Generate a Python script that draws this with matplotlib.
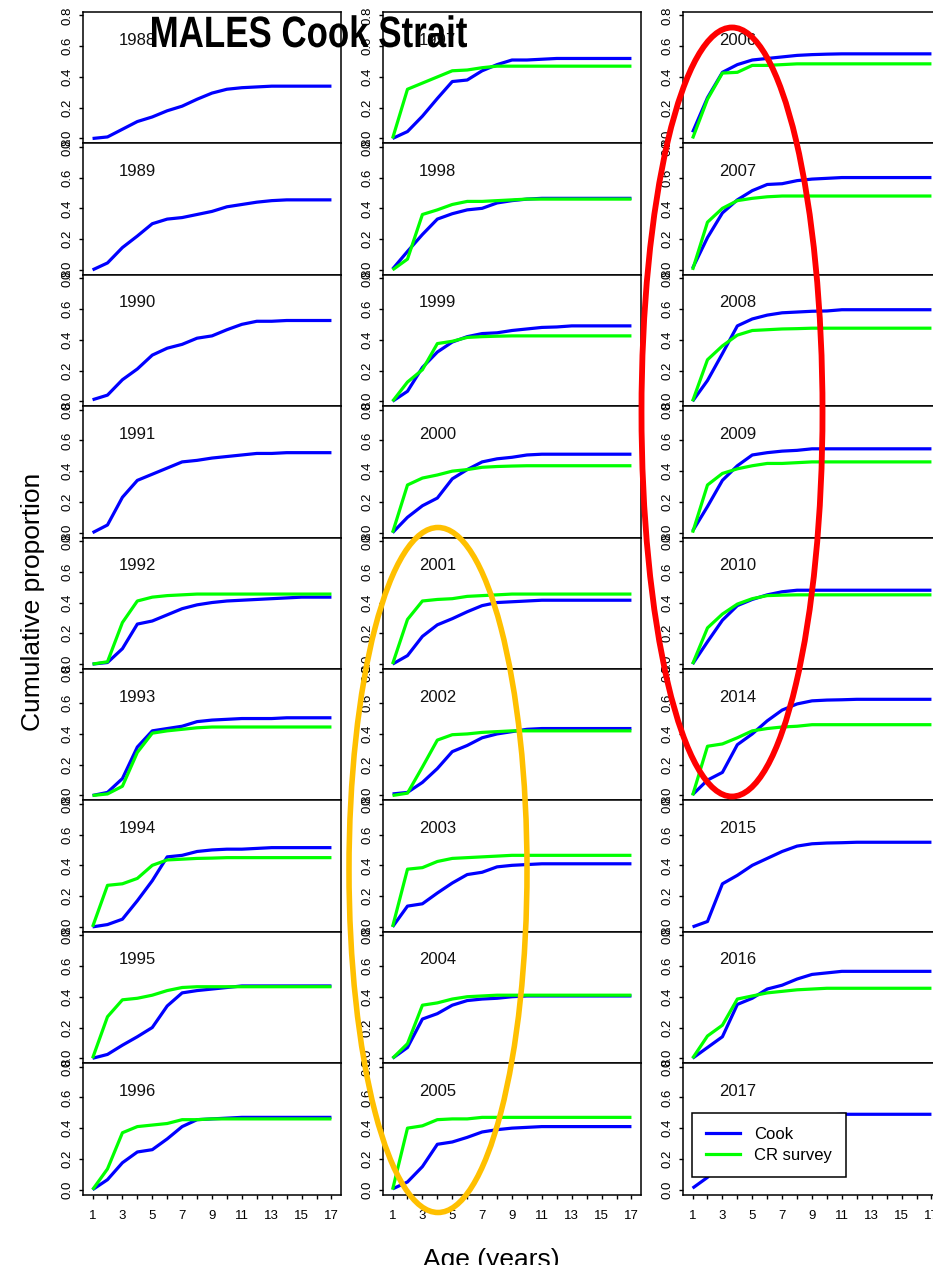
import matplotlib
matplotlib.use("Agg")
import matplotlib.pyplot as plt
from matplotlib.patches import Ellipse, PathPatch
from matplotlib.textpath import TextPath
from matplotlib.font_manager import FontProperties
from matplotlib.transforms import Affine2D

plt.rcParams['font.family'] = ['Liberation Sans', 'DejaVu Sans']

ages = list(range(1, 18))

# panels are filled column by column, top to bottom
years = [1988, 1989, 1990, 1991, 1992, 1993, 1994, 1995, 1996,
         1997, 1998, 1999, 2000, 2001, 2002, 2003, 2004, 2005,
         2006, 2007, 2008, 2009, 2010, 2014, 2015, 2016, 2017]

# cumulative proportion mature by age, commercial (Cook) sampling
cook = [
    [0.0, 0.01, 0.06, 0.11, 0.14, 0.18, 0.21, 0.255, 0.295, 0.32, 0.33, 0.335, 0.34, 0.34, 0.34, 0.34, 0.34],
    [0.0, 0.045, 0.145, 0.22, 0.30, 0.33, 0.34, 0.36, 0.38, 0.41, 0.425, 0.44, 0.45, 0.455, 0.455, 0.455, 0.455],
    [0.01, 0.04, 0.14, 0.21, 0.30, 0.345, 0.37, 0.41, 0.425, 0.465, 0.50, 0.52, 0.52, 0.525, 0.525, 0.525, 0.525],
    [0.0, 0.05, 0.23, 0.34, 0.38, 0.42, 0.46, 0.47, 0.485, 0.495, 0.505, 0.515, 0.515, 0.52, 0.52, 0.52, 0.52],
    [0.0, 0.01, 0.10, 0.26, 0.28, 0.32, 0.36, 0.385, 0.40, 0.41, 0.415, 0.42, 0.425, 0.43, 0.435, 0.435, 0.435],
    [0.0, 0.02, 0.11, 0.315, 0.42, 0.435, 0.45, 0.48, 0.49, 0.495, 0.50, 0.50, 0.50, 0.505, 0.505, 0.505, 0.505],
    [0.0, 0.015, 0.05, 0.17, 0.30, 0.455, 0.465, 0.49, 0.50, 0.505, 0.505, 0.51, 0.515, 0.515, 0.515, 0.515, 0.515],
    [0.0, 0.025, 0.085, 0.14, 0.20, 0.34, 0.425, 0.44, 0.45, 0.46, 0.47, 0.47, 0.47, 0.47, 0.47, 0.47, 0.47],
    [0.0, 0.065, 0.175, 0.245, 0.26, 0.33, 0.41, 0.455, 0.46, 0.465, 0.47, 0.47, 0.47, 0.47, 0.47, 0.47, 0.47],
    [0.0, 0.045, 0.145, 0.26, 0.37, 0.38, 0.44, 0.48, 0.51, 0.51, 0.515, 0.52, 0.52, 0.52, 0.52, 0.52, 0.52],
    [0.005, 0.12, 0.23, 0.33, 0.365, 0.39, 0.40, 0.435, 0.45, 0.46, 0.465, 0.465, 0.465, 0.465, 0.465, 0.465, 0.465],
    [0.0, 0.065, 0.22, 0.32, 0.385, 0.42, 0.44, 0.445, 0.46, 0.47, 0.48, 0.483, 0.49, 0.49, 0.49, 0.49, 0.49],
    [0.0, 0.10, 0.175, 0.225, 0.35, 0.41, 0.46, 0.48, 0.49, 0.505, 0.51, 0.51, 0.51, 0.51, 0.51, 0.51, 0.51],
    [0.0, 0.055, 0.18, 0.255, 0.295, 0.34, 0.38, 0.40, 0.405, 0.41, 0.415, 0.415, 0.415, 0.415, 0.415, 0.415, 0.415],
    [0.01, 0.02, 0.085, 0.175, 0.285, 0.325, 0.375, 0.40, 0.415, 0.43, 0.435, 0.435, 0.435, 0.435, 0.435, 0.435, 0.435],
    [0.0, 0.135, 0.15, 0.22, 0.285, 0.34, 0.355, 0.39, 0.40, 0.405, 0.41, 0.41, 0.41, 0.41, 0.41, 0.41, 0.41],
    [0.0, 0.07, 0.255, 0.29, 0.345, 0.375, 0.385, 0.39, 0.40, 0.405, 0.405, 0.405, 0.405, 0.405, 0.405, 0.405, 0.405],
    [0.005, 0.05, 0.15, 0.295, 0.31, 0.34, 0.375, 0.39, 0.40, 0.405, 0.41, 0.41, 0.41, 0.41, 0.41, 0.41, 0.41],
    [0.04, 0.265, 0.43, 0.48, 0.51, 0.52, 0.53, 0.54, 0.545, 0.548, 0.55, 0.55, 0.55, 0.55, 0.55, 0.55, 0.55],
    [0.01, 0.21, 0.37, 0.455, 0.515, 0.555, 0.56, 0.58, 0.59, 0.595, 0.60, 0.60, 0.60, 0.60, 0.60, 0.60, 0.60],
    [0.0, 0.135, 0.31, 0.49, 0.535, 0.56, 0.575, 0.58, 0.585, 0.587, 0.595, 0.595, 0.595, 0.595, 0.595, 0.595, 0.595],
    [0.01, 0.17, 0.34, 0.435, 0.505, 0.52, 0.53, 0.535, 0.545, 0.545, 0.545, 0.545, 0.545, 0.545, 0.545, 0.545, 0.545],
    [0.0, 0.145, 0.285, 0.38, 0.42, 0.45, 0.47, 0.48, 0.48, 0.48, 0.48, 0.48, 0.48, 0.48, 0.48, 0.48, 0.48],
    [0.005, 0.10, 0.15, 0.33, 0.40, 0.485, 0.555, 0.595, 0.615, 0.62, 0.622, 0.625, 0.625, 0.625, 0.625, 0.625, 0.625],
    [0.0, 0.035, 0.28, 0.335, 0.40, 0.445, 0.49, 0.525, 0.54, 0.545, 0.547, 0.55, 0.55, 0.55, 0.55, 0.55, 0.55],
    [0.0, 0.07, 0.14, 0.35, 0.39, 0.45, 0.475, 0.515, 0.545, 0.555, 0.565, 0.565, 0.565, 0.565, 0.565, 0.565, 0.565],
    [0.01, 0.08, 0.20, 0.30, 0.38, 0.42, 0.45, 0.47, 0.48, 0.485, 0.49, 0.49, 0.49, 0.49, 0.49, 0.49, 0.49],
]

# same, from the CR survey (None = no survey that year)
survey = [
    None, None, None, None,
    [0.0, 0.015, 0.27, 0.41, 0.435, 0.445, 0.45, 0.455, 0.455, 0.455, 0.455, 0.455, 0.455, 0.455, 0.455, 0.455, 0.455],
    [0.0, 0.01, 0.06, 0.28, 0.405, 0.42, 0.43, 0.44, 0.445, 0.445, 0.445, 0.445, 0.445, 0.445, 0.445, 0.445, 0.445],
    [0.0, 0.27, 0.28, 0.315, 0.40, 0.435, 0.44, 0.445, 0.447, 0.45, 0.45, 0.45, 0.45, 0.45, 0.45, 0.45, 0.45],
    [0.0, 0.27, 0.38, 0.39, 0.41, 0.44, 0.46, 0.465, 0.465, 0.465, 0.465, 0.465, 0.465, 0.465, 0.465, 0.465, 0.465],
    [0.0, 0.135, 0.37, 0.41, 0.42, 0.43, 0.455, 0.455, 0.46, 0.46, 0.46, 0.46, 0.46, 0.46, 0.46, 0.46, 0.46],
    [0.0, 0.32, 0.36, 0.40, 0.44, 0.445, 0.46, 0.47, 0.47, 0.47, 0.47, 0.47, 0.47, 0.47, 0.47, 0.47, 0.47],
    [0.0, 0.07, 0.36, 0.39, 0.425, 0.445, 0.445, 0.45, 0.455, 0.46, 0.46, 0.46, 0.46, 0.46, 0.46, 0.46, 0.46],
    [0.0, 0.125, 0.205, 0.375, 0.39, 0.415, 0.42, 0.423, 0.425, 0.425, 0.425, 0.425, 0.425, 0.425, 0.425, 0.425, 0.425],
    [0.0, 0.31, 0.355, 0.375, 0.40, 0.41, 0.425, 0.43, 0.433, 0.435, 0.435, 0.435, 0.435, 0.435, 0.435, 0.435, 0.435],
    [0.0, 0.29, 0.41, 0.42, 0.425, 0.44, 0.445, 0.45, 0.455, 0.455, 0.455, 0.455, 0.455, 0.455, 0.455, 0.455, 0.455],
    [0.0, 0.015, 0.185, 0.36, 0.395, 0.40, 0.41, 0.415, 0.42, 0.42, 0.42, 0.42, 0.42, 0.42, 0.42, 0.42, 0.42],
    [0.0, 0.375, 0.385, 0.425, 0.445, 0.45, 0.455, 0.46, 0.465, 0.465, 0.465, 0.465, 0.465, 0.465, 0.465, 0.465, 0.465],
    [0.0, 0.095, 0.345, 0.36, 0.385, 0.40, 0.405, 0.41, 0.41, 0.41, 0.41, 0.41, 0.41, 0.41, 0.41, 0.41, 0.41],
    [0.0, 0.40, 0.415, 0.455, 0.46, 0.46, 0.47, 0.47, 0.47, 0.47, 0.47, 0.47, 0.47, 0.47, 0.47, 0.47, 0.47],
    [0.0, 0.255, 0.425, 0.43, 0.475, 0.475, 0.48, 0.485, 0.485, 0.485, 0.485, 0.485, 0.485, 0.485, 0.485, 0.485, 0.485],
    [0.0, 0.31, 0.40, 0.45, 0.465, 0.475, 0.48, 0.48, 0.48, 0.48, 0.48, 0.48, 0.48, 0.48, 0.48, 0.48, 0.48],
    [0.0, 0.27, 0.36, 0.43, 0.46, 0.465, 0.47, 0.472, 0.475, 0.475, 0.475, 0.475, 0.475, 0.475, 0.475, 0.475, 0.475],
    [0.0, 0.31, 0.385, 0.415, 0.435, 0.45, 0.45, 0.455, 0.46, 0.46, 0.46, 0.46, 0.46, 0.46, 0.46, 0.46, 0.46],
    [0.0, 0.235, 0.325, 0.39, 0.425, 0.445, 0.448, 0.45, 0.45, 0.45, 0.45, 0.45, 0.45, 0.45, 0.45, 0.45, 0.45],
    [0.0, 0.32, 0.335, 0.375, 0.42, 0.435, 0.445, 0.45, 0.46, 0.46, 0.46, 0.46, 0.46, 0.46, 0.46, 0.46, 0.46],
    None,
    [0.0, 0.145, 0.215, 0.385, 0.405, 0.425, 0.435, 0.445, 0.45, 0.455, 0.455, 0.455, 0.455, 0.455, 0.455, 0.455, 0.455],
    None,
]

yticks = [0.0, 0.2, 0.4, 0.6, 0.8]

W, H = 933, 1265
fig = plt.figure(figsize=(W / 100, H / 100), dpi=100)

n_rows = 9
row_h = 131.4
col_w = 258

for i, year in enumerate(years):
    col, row = divmod(i, n_rows)
    left = (83 + 300 * col) / W
    bottom = 1 - (12 + row_h * (row + 1)) / H
    ax = fig.add_axes([left, bottom, col_w / W, row_h / H])

    ax.plot(ages, cook[i], color='#0000ff', lw=2.3, label='Cook', solid_capstyle='butt')
    if survey[i] is not None:
        ax.plot(ages, survey[i], color='#00ff00', lw=2.3, label='CR survey', solid_capstyle='butt')

    ax.set_xlim(0.36, 17.64)
    ax.set_ylim(-0.032, 0.822)
    ax.set_yticks(yticks)
    ax.set_yticklabels(['%.1f' % v for v in yticks], rotation=90, va='center', fontsize=9.5)
    ax.set_xticks(ages)
    if row == n_rows - 1:
        ax.set_xticklabels([str(a) if a % 2 else '' for a in ages], fontsize=9.5)
    else:
        ax.set_xticklabels([])
    ax.tick_params(direction='out', length=3, width=1)
    ax.tick_params(axis='y', pad=4)
    ax.tick_params(axis='x', pad=8)
    for sp in ax.spines.values():
        sp.set_linewidth(1.1)

    ax.text(4, 0.64, str(year), ha='center', va='center', fontsize=12, color='#111111')

    if year == 2017:
        handles = [plt.Line2D([], [], color='#0000ff', lw=2.3),
                   plt.Line2D([], [], color='#00ff00', lw=2.3)]
        leg = ax.legend(handles, ['Cook', 'CR survey'], loc='upper left',
                        bbox_to_anchor=(0.035, 0.62), borderaxespad=0,
                        fontsize=12, fancybox=False, framealpha=1,
                        edgecolor='black', handlelength=2.0,
                        handletextpad=0.85, labelspacing=0.35, borderpad=0.85)
        leg.get_frame().set_linewidth(1.1)

# narrow bold title: glyph outlines squeezed horizontally to fit its box
title_box = (152, 467, 47)   # left px, right px, baseline px from top
tp = TextPath((0, 0), 'MALES Cook Strait', size=31.6,
              prop=FontProperties(family='Liberation Sans', weight='bold'))
ext = tp.get_extents()
sx = ((title_box[1] - title_box[0]) / 100 * 72) / ext.width
tr = (Affine2D().translate(-ext.x0, 0).scale(sx / 72, 1 / 72)
      .translate(title_box[0] / 100, (H - title_box[2]) / 100) + fig.dpi_scale_trans)
fig.add_artist(PathPatch(tp, transform=tr, facecolor='black', edgecolor='none', zorder=5))

fig.text(33 / W, 1 - 602 / H, 'Cumulative proportion', rotation=90,
         ha='center', va='center', fontsize=19)
fig.text(491 / W, -2 / H, 'Age (years)', ha='center', va='baseline', fontsize=19)

# highlighted groups of years
fig.add_artist(Ellipse((732 / W, 1 - 412 / H), 181 / W, 769 / H,
                       transform=fig.transFigure, fill=False,
                       edgecolor='#ff0000', lw=4.2, zorder=10))
fig.add_artist(Ellipse((438 / W, 1 - 870 / H), 178 / W, 685 / H,
                       transform=fig.transFigure, fill=False,
                       edgecolor='#ffc000', lw=4.0, zorder=10))

fig.savefig('out.png', dpi=100)
